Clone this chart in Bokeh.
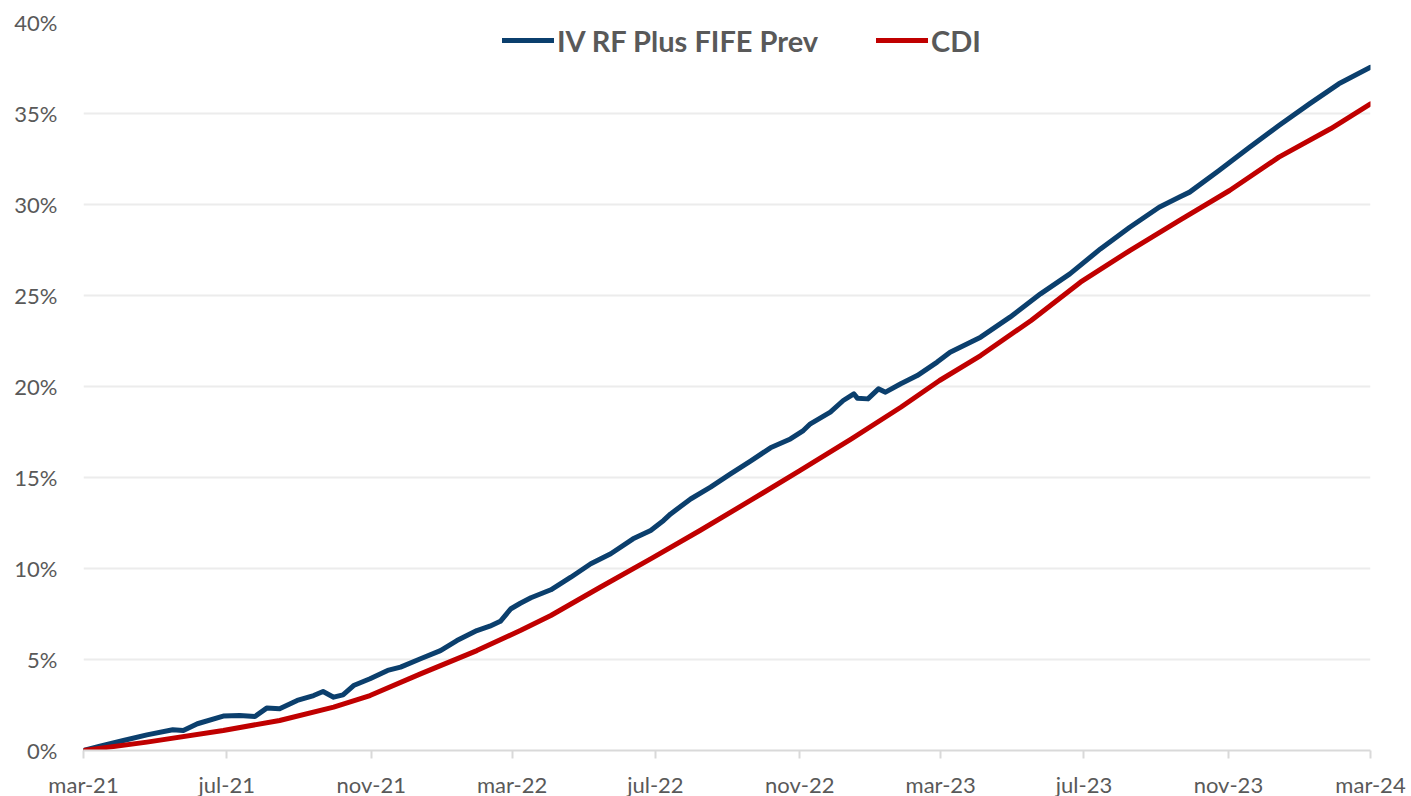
import pandas as pd
from bokeh.plotting import figure
from bokeh.models import (FixedTicker, PrintfTickFormatter, Legend, LegendItem,
                          Range1d, ColumnDataSource)
from bokeh.embed import file_html
from bokeh.resources import INLINE

# ---- data (cumulative return, %) ----
fund_dates = [
    "2021-03-01", "2021-03-15", "2021-04-04", "2021-04-24", "2021-05-16", "2021-05-25",
    "2021-06-06", "2021-06-28", "2021-07-12", "2021-07-25", "2021-08-04", "2021-08-15",
    "2021-08-30", "2021-09-13", "2021-09-21", "2021-09-30", "2021-10-08", "2021-10-17",
    "2021-10-31", "2021-11-15", "2021-11-26", "2021-12-13", "2021-12-30", "2022-01-13",
    "2022-01-30", "2022-02-10", "2022-02-19", "2022-02-28", "2022-03-08", "2022-03-17",
    "2022-04-03", "2022-04-20", "2022-05-07", "2022-05-24", "2022-06-12", "2022-06-27",
    "2022-07-08", "2022-07-14", "2022-07-31", "2022-08-17", "2022-09-03", "2022-09-20",
    "2022-10-07", "2022-10-24", "2022-11-04", "2022-11-10", "2022-11-27", "2022-12-08",
    "2022-12-17", "2022-12-20", "2022-12-29", "2023-01-07", "2023-01-13", "2023-01-26",
    "2023-02-09", "2023-02-26", "2023-03-09", "2023-04-04", "2023-04-29", "2023-05-25",
    "2023-06-19", "2023-07-15", "2023-08-09", "2023-09-03", "2023-09-20", "2023-09-29",
    "2023-10-24", "2023-11-19", "2023-12-14", "2024-01-09", "2024-02-03", "2024-03-01",
]
fund_values = [
    0.00, 0.24, 0.55, 0.86, 1.14, 1.10,
    1.47, 1.89, 1.92, 1.87, 2.33, 2.29,
    2.75, 3.02, 3.24, 2.93, 3.06, 3.57,
    3.94, 4.40, 4.58, 5.04, 5.49, 6.04,
    6.59, 6.83, 7.10, 7.79, 8.09, 8.39,
    8.83, 9.52, 10.26, 10.81, 11.63, 12.09,
    12.64, 13.00, 13.82, 14.47, 15.20, 15.90,
    16.63, 17.12, 17.58, 17.95, 18.59, 19.23,
    19.60, 19.36, 19.32, 19.87, 19.69, 20.15,
    20.60, 21.34, 21.88, 22.71, 23.81, 25.09,
    26.19, 27.56, 28.75, 29.85, 30.40, 30.68,
    31.87, 33.15, 34.34, 35.53, 36.63, 37.54,
]

cdi_dates = [
    "2021-03-01", "2021-04-24", "2021-06-28", "2021-08-15", "2021-09-30", "2021-10-31",
    "2021-12-13", "2022-01-30", "2022-03-08", "2022-04-03", "2022-05-15", "2022-06-27",
    "2022-08-08", "2022-09-20", "2022-11-01", "2022-12-15", "2023-01-26", "2023-02-28",
    "2023-04-04", "2023-05-17", "2023-06-28", "2023-08-09", "2023-09-20", "2023-11-02",
    "2023-12-14", "2024-01-27", "2024-03-01",
]
cdi_values = [
    0.00, 0.46, 1.10, 1.65, 2.38, 3.02,
    4.21, 5.49, 6.59, 7.42, 8.97, 10.53,
    12.09, 13.74, 15.38, 17.12, 18.86, 20.33,
    21.70, 23.63, 25.73, 27.47, 29.12, 30.77,
    32.60, 34.16, 35.53,
]

series_names = ["IV RF Plus FIFE Prev", "CDI"]
x_tick_dates = ["2021-03-01", "2021-07-01", "2021-11-01", "2022-03-01", "2022-07-01",
                "2022-11-01", "2023-03-01", "2023-07-01", "2023-11-01", "2024-03-01"]
x_tick_labels = ["mar-21", "jul-21", "nov-21", "mar-22", "jul-22",
                 "nov-22", "mar-23", "jul-23", "nov-23", "mar-24"]
y_ticks = [0, 5, 10, 15, 20, 25, 30, 35, 40]

FONT = "Lato"
GREY = "#595959"
BLUE = "#0B3F6D"
RED = "#C00000"

fund_src = ColumnDataSource(dict(x=pd.to_datetime(fund_dates), y=fund_values))
cdi_src = ColumnDataSource(dict(x=pd.to_datetime(cdi_dates), y=cdi_values))

tick_ms = [pd.Timestamp(d).value / 1e6 for d in x_tick_dates]

p = figure(width=1411, height=802, x_axis_type="datetime",
           output_backend="svg", toolbar_location=None,
           x_range=Range1d(pd.Timestamp(x_tick_dates[0]), pd.Timestamp(x_tick_dates[-1])),
           y_range=Range1d(0, 40),
           min_border_left=83, min_border_right=41, min_border_top=22, min_border_bottom=52)
p.outline_line_color = None
p.background_fill_color = "white"
p.border_fill_color = "white"

r_fund = p.line("x", "y", source=fund_src, line_color=BLUE, line_width=5,
                line_join="round", line_cap="round")
r_cdi = p.line("x", "y", source=cdi_src, line_color=RED, line_width=5,
               line_join="round", line_cap="round")

# x axis
xa = p.xaxis[0]
xa.ticker = FixedTicker(ticks=tick_ms)
xa.major_label_overrides = {t: lab for t, lab in zip(tick_ms, x_tick_labels)}
xa.axis_line_color = "#D9D9D9"
xa.axis_line_width = 2
xa.major_tick_line_color = "#D9D9D9"
xa.major_tick_line_width = 2
xa.major_tick_in = 0
xa.major_tick_out = 8
xa.minor_tick_line_color = None
xa.major_label_text_font = FONT
xa.major_label_text_font_size = "22px"
xa.major_label_text_color = GREY
xa.major_label_standoff = 12

# y axis
ya = p.yaxis[0]
ya.ticker = FixedTicker(ticks=y_ticks)
ya.formatter = PrintfTickFormatter(format="%d%%")
ya.axis_line_color = None
ya.major_tick_line_color = None
ya.minor_tick_line_color = None
ya.major_tick_in = 0
ya.major_tick_out = 0
ya.major_label_standoff = 26
ya.major_label_text_font = FONT
ya.major_label_text_font_size = "22px"
ya.major_label_text_color = GREY

p.xgrid.grid_line_color = None
p.ygrid.grid_line_color = "#ECECEC"
p.ygrid.grid_line_width = 2

legend = Legend(items=[LegendItem(label=series_names[0], renderers=[r_fund]),
                       LegendItem(label=series_names[1], renderers=[r_cdi])],
                orientation="horizontal", location=(419, 686),
                padding=0, margin=0, spacing=58,
                glyph_width=52, glyph_height=48, label_height=48,
                label_standoff=3,
                label_text_font=FONT, label_text_font_size="29px",
                label_text_font_style="bold", label_text_color=GREY,
                border_line_color=None, background_fill_alpha=0)
p.add_layout(legend)

open("out.html", "w").write(file_html(p, INLINE))
